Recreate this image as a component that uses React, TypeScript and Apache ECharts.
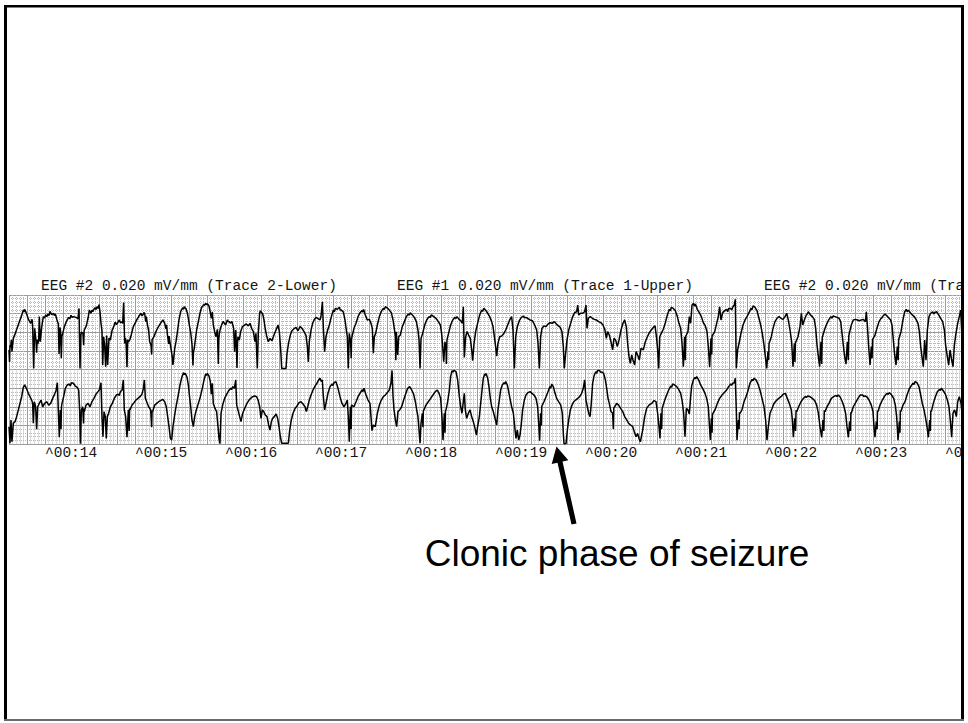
import React, { useEffect, useRef } from "react";
import * as echarts from "echarts";

// Strip timing: one major box = 0.2 s, one minor box = 0.04 s
const TIME_MIN = 13.6;
const TIME_MAX = 24.2;
const TIME_STEP = 0.2;
// Each channel band spans ±200 µV, one major box = 100 µV (0.020 mV/mm, 5 mm boxes)
const AMP_MIN = -200;
const AMP_MAX = 200;
const AMP_STEP = 100;

// The third header runs into the frame and is cut there
const HEADER_TEXT = [
  "EEG #2 0.020 mV/mm (Trace 2-Lower)",
  "EEG #1 0.020 mV/mm (Trace 1-Upper)",
  "EEG #2 0.020 mV/mm (Tra",
];
const ANNOTATION = "Clonic phase of seizure";

// EEG #1 (upper trace): [time s, µV]
const UPPER_A: [number, number][] = [
  [13.600,-95],[13.606,-160],[13.611,-70],[13.619,-80],[13.626,-40],[13.633,-104],[13.648,-33],[13.670,-6],[13.693,26],[13.715,57],[13.737,84],[13.759,119],[13.766,108],[13.774,123],[13.785,112],[13.796,98],[13.819,66],[13.841,48],[13.856,70],[13.863,30],[13.874,-195],[13.885,21],[13.900,-45],[13.907,-110],[13.913,-40],[13.919,-63],[13.930,-45],[13.937,84],[13.948,-51],[13.963,26],[13.981,84],[13.994,76],[14.007,93],[14.020,84],[14.033,98],[14.045,90],[14.056,112],[14.074,94],[14.093,102],[14.104,90],[14.115,98],[14.133,66],[14.148,44],[14.156,-117],[14.167,26],[14.174,0],[14.181,-140],[14.188,-20],[14.196,-9],[14.215,30],[14.237,57],[14.263,80],[14.276,72],[14.289,91],[14.302,80],[14.315,84],[14.344,80],[14.367,73],[14.378,128],[14.389,-195],[14.397,-20],[14.404,1],[14.422,-6],[14.429,-70],[14.435,10],[14.459,34],[14.478,75],[14.493,119],[14.511,102],[14.522,118],[14.533,112],[14.545,125],[14.556,132],[14.567,122],[14.578,137],[14.590,128],[14.600,148],[14.611,110],[14.622,48],[14.633,8],[14.641,-176],[14.652,-24],[14.663,-74],[14.674,-185],[14.685,-17],[14.696,-176],[14.711,-31],[14.726,-42],[14.744,8],[14.763,30],[14.781,55],[14.792,42],[14.804,48],[14.826,66],[14.837,52],[14.848,55],[14.863,48],[14.874,159],[14.885,-60],[14.893,-30],[14.900,-45],[14.911,-188],[14.919,-40],[14.926,-53],[14.941,-42],[14.959,-13],[14.981,30],[15.000,48],[15.022,69],[15.044,87],[15.067,102],[15.078,88],[15.089,94],[15.098,106],[15.107,102],[15.119,57],[15.126,84],[15.137,44],[15.152,8],[15.163,-51],[15.178,-70],[15.185,-120],[15.190,-40],[15.211,-24],[15.230,1],[15.248,19],[15.270,37],[15.293,55],[15.311,66],[15.330,48],[15.344,19],[15.351,40],[15.359,-9],[15.374,-63],[15.380,-20],[15.385,-42],[15.400,-88],[15.415,-135],[15.421,-175],[15.426,-160],[15.441,-88],[15.456,-49],[15.470,-2],[15.489,66],[15.507,110],[15.518,122],[15.530,130],[15.539,124],[15.548,137],[15.558,130],[15.567,127],[15.581,105],[15.593,73],[15.604,37],[15.619,-2],[15.633,-63],[15.644,-178],[15.650,-100],[15.656,-95],[15.670,-42],[15.685,12],[15.704,57],[15.722,102],[15.741,134],[15.752,140],[15.763,148],[15.774,145],[15.785,155],[15.795,148],[15.804,153],[15.822,141],[15.833,116],[15.848,75],[15.859,110],[15.870,39],[15.885,3],[15.900,-24],[15.915,16],[15.926,-170],[15.931,-40],[15.937,-6],[15.952,26],[15.970,48],[15.980,58],[15.989,51],[16.007,39],[16.026,66],[16.035,58],[16.044,57],[16.063,48],[16.072,58],[16.081,51],[16.096,21],[16.107,-104],[16.119,12],[16.126,-60],[16.133,-192],[16.139,-60],[16.144,-24],[16.159,-42],[16.174,3],[16.193,30],[16.215,37],[16.226,42],[16.237,44],[16.259,34],[16.278,48],[16.296,21],[16.315,3],[16.333,-51],[16.344,-6],[16.359,-195],[16.370,-6],[16.385,102],[16.392,115],[16.400,110],[16.419,98],[16.433,66],[16.448,16],[16.463,-20],[16.481,-51],[16.500,-33],[16.522,-45],[16.544,-15],[16.567,12],[16.589,39],[16.604,3],[16.619,-95],[16.630,-195],[16.678,-195],[16.689,-113],[16.707,-56],[16.726,-15],[16.744,8],[16.767,19],[16.789,26],[16.811,8],[16.833,30],[16.856,21],[16.878,3],[16.900,-17],[16.915,-77],[16.926,-160],[16.937,-49],[16.956,12],[16.974,48],[16.993,69],[17.011,80],[17.033,73],[17.056,66],
];
const UPPER_B: [number, number][] = [
  [17.067,87],[17.082,164],[17.093,21],[17.107,-104],[17.122,-24],[17.141,12],[17.159,39],[17.182,84],[17.204,119],[17.215,110],[17.226,128],[17.248,123],[17.270,134],[17.281,120],[17.293,119],[17.315,109],[17.333,66],[17.348,12],[17.359,-24],[17.370,-194],[17.381,-6],[17.396,-51],[17.402,-140],[17.406,-40],[17.411,-24],[17.433,21],[17.456,48],[17.478,84],[17.500,105],[17.522,116],[17.532,108],[17.541,123],[17.559,93],[17.581,66],[17.604,69],[17.622,48],[17.637,21],[17.648,-113],[17.659,-24],[17.674,-6],[17.693,39],[17.715,84],[17.737,112],[17.759,128],[17.770,122],[17.782,137],[17.804,130],[17.826,119],[17.848,105],[17.867,66],[17.881,21],[17.893,-24],[17.898,-150],[17.904,3],[17.919,-122],[17.930,-24],[17.948,-15],[17.970,30],[17.993,57],[18.015,84],[18.037,98],[18.048,92],[18.059,105],[18.082,93],[18.104,80],[18.126,57],[18.144,12],[18.156,-42],[18.167,-194],[18.178,-33],[18.196,-6],[18.219,39],[18.241,66],[18.267,84],[18.280,80],[18.293,93],[18.319,84],[18.344,75],[18.370,57],[18.393,39],[18.407,-6],[18.419,-77],[18.430,-158],[18.444,-51],[18.456,-95],[18.460,-170],[18.465,-50],[18.470,-33],[18.489,3],[18.507,39],[18.530,66],[18.556,80],[18.567,74],[18.578,84],[18.600,69],[18.619,62],[18.637,48],[18.648,137],[18.659,-135],[18.674,-24],[18.689,3],[18.707,-15],[18.726,-33],[18.741,-95],[18.752,-153],[18.767,-60],[18.785,3],[18.807,48],[18.830,93],[18.852,119],[18.863,112],[18.874,128],[18.896,119],[18.919,102],[18.941,84],[18.963,57],[18.978,30],[18.993,-24],[19.007,-77],[19.019,-128],[19.033,-60],[19.052,-24],[19.074,-20],[19.096,-9],[19.119,12],[19.141,39],[19.163,66],[19.185,84],[19.200,12],[19.215,-194],[19.230,-24],[19.248,30],[19.270,62],[19.293,80],[19.315,87],[19.328,78],[19.341,80],[19.363,75],[19.389,66],[19.415,62],[19.441,39],[19.463,12],[19.478,-60],[19.493,-194],[19.507,-24],[19.522,21],[19.544,34],[19.567,30],[19.589,44],[19.611,51],[19.637,48],[19.659,57],[19.682,44],[19.704,34],[19.726,26],[19.744,3],[19.759,-77],[19.770,-194],[19.785,-113],[19.800,-42],[19.819,12],[19.841,48],[19.863,84],[19.885,105],[19.907,110],[19.919,146],[19.930,93],[19.952,102],[19.974,102],[19.996,110],[20.011,146],[20.022,21],[20.037,75],[20.059,84],[20.082,75],[20.104,69],[20.126,66],[20.152,57],[20.178,51],[20.200,39],[20.222,12],[20.237,-33],[20.252,3],[20.270,-15],[20.289,-51],[20.307,-95],[20.322,-33],[20.341,-42],[20.359,-77],[20.378,-42],[20.400,12],[20.422,48],[20.441,66],[20.459,30],[20.474,-60],[20.489,-131],[20.504,-167],[20.519,-122],[20.533,-149],[20.552,-176],[20.567,-104],[20.585,-122],[20.604,-149],[20.622,-86],
];
const UPPER_C: [number, number][] = [
  [20.648,-95],[20.670,-51],[20.693,-24],[20.715,-2],[20.737,12],[20.759,26],[20.778,34],[20.796,-33],[20.807,-95],[20.819,-194],[20.830,-24],[20.848,-6],[20.870,16],[20.893,51],[20.915,93],[20.937,123],[20.948,115],[20.959,134],[20.981,128],[21.004,116],[21.026,84],[21.044,48],[21.063,21],[21.078,-60],[21.093,-185],[21.107,-24],[21.115,-150],[21.120,-20],[21.126,-15],[21.144,3],[21.159,84],[21.174,48],[21.189,146],[21.207,155],[21.215,140],[21.226,152],[21.248,123],[21.270,105],[21.293,84],[21.315,51],[21.337,34],[21.356,3],[21.370,-77],[21.385,-188],[21.400,-33],[21.408,-120],[21.412,-20],[21.419,-15],[21.441,3],[21.463,48],[21.481,84],[21.496,137],[21.511,66],[21.530,105],[21.552,116],[21.574,123],[21.585,110],[21.596,128],[21.619,127],[21.630,120],[21.641,134],[21.659,146],[21.670,177],[21.681,-194],[21.696,-95],[21.715,-51],[21.733,-6],[21.756,39],[21.778,66],[21.800,84],[21.822,105],[21.844,128],[21.855,120],[21.867,141],[21.889,134],[21.911,116],[21.933,75],[21.952,39],[21.970,-6],[21.989,-69],[22.004,-131],[22.019,-194],[22.033,-104],[22.040,-150],[22.045,-60],[22.052,-51],[22.070,-24],[22.089,21],[22.111,57],[22.133,75],[22.156,84],[22.178,75],[22.200,69],[22.222,84],[22.241,102],[22.259,66],[22.278,12],[22.296,-51],[22.311,-185],[22.326,-60],[22.333,-160],[22.338,-55],[22.344,-51],[22.367,-24],[22.389,30],[22.404,102],[22.419,39],[22.437,66],[22.459,93],[22.470,98],[22.481,110],[22.504,93],[22.526,84],[22.548,69],[22.563,21],[22.578,-69],[22.593,-131],[22.607,-185],[22.622,-51],[22.630,-170],[22.636,-30],[22.644,-15],[22.667,21],[22.689,48],[22.711,69],[22.733,84],[22.745,75],[22.756,87],[22.778,84],[22.800,80],[22.822,75],[22.841,57],[22.856,-6],[22.870,-69],[22.885,-131],[22.900,-171],[22.915,-51],[22.926,-150],[22.931,-20],[22.937,-6],[22.959,39],[22.981,66],[23.004,69],[23.026,66],[23.048,62],[23.070,66],[23.093,69],[23.115,57],[23.126,110],[23.137,39],[23.152,-77],[23.167,-176],[23.181,-77],[23.190,-140],[23.195,-40],[23.200,-42],[23.222,-15],[23.244,21],[23.267,57],[23.289,75],[23.300,78],[23.311,87],[23.333,98],[23.356,87],[23.378,75],[23.396,66],[23.411,39],[23.426,-42],[23.441,-122],[23.456,-176],[23.470,-77],[23.480,-150],[23.485,-40],[23.489,-42],[23.511,3],[23.533,66],[23.552,110],[23.570,123],[23.580,110],[23.593,119],[23.615,105],[23.637,93],[23.659,84],[23.681,66],[23.700,48],[23.715,3],[23.730,-77],[23.744,-131],[23.759,-185],[23.774,-42],[23.789,-150],[23.804,12],[23.822,84],[23.841,102],[23.863,110],[23.874,98],[23.885,105],[23.907,110],[23.930,93],[23.952,75],[23.974,57],[23.993,12],[24.007,-69],[24.026,-131],[24.041,-176],[24.056,-95],[24.074,-149],[24.089,-185],[24.104,-69],[24.122,-6],[24.141,48],[24.159,84],[24.174,119],[24.185,12],[24.200,-185],[24.215,-95],
];

// EEG #2 (lower trace): [time s, µV]
const LOWER_A: [number, number][] = [
  [13.600,-107],[13.611,-196],[13.622,-71],[13.633,-188],[13.648,-89],[13.667,-80],[13.685,-53],[13.704,-17],[13.722,18],[13.741,54],[13.759,104],[13.774,117],[13.793,99],[13.815,72],[13.833,54],[13.852,36],[13.863,18],[13.870,-89],[13.881,27],[13.896,0],[13.907,-121],[13.919,0],[13.937,18],[13.956,36],[13.974,0],[13.996,18],[14.019,27],[14.041,9],[14.063,18],[14.085,45],[14.107,68],[14.122,86],[14.137,129],[14.148,-17],[14.159,-164],[14.170,-17],[14.178,-120],[14.183,0],[14.189,18],[14.207,54],[14.226,99],[14.248,117],[14.270,122],[14.281,112],[14.293,129],[14.315,126],[14.337,111],[14.359,104],[14.374,90],[14.385,-17],[14.393,-198],[14.404,-17],[14.419,0],[14.428,-90],[14.432,-10],[14.437,-26],[14.456,9],[14.478,18],[14.500,0],[14.522,27],[14.544,45],[14.567,68],[14.589,81],[14.607,93],[14.622,129],[14.633,-53],[14.644,-161],[14.656,-26],[14.670,-53],[14.681,-170],[14.693,-53],[14.707,-35],[14.726,0],[14.748,18],[14.770,45],[14.793,63],[14.815,68],[14.826,60],[14.837,81],[14.856,90],[14.870,144],[14.881,-17],[14.896,-53],[14.911,-164],[14.926,-17],[14.935,-130],[14.940,-10],[14.944,-17],[14.967,9],[14.989,22],[15.011,36],[15.033,45],[15.056,54],[15.078,68],[15.093,99],[15.104,144],[15.115,45],[15.130,27],[15.152,0],[15.174,-17],[15.185,-110],[15.190,-20],[15.196,-26],[15.219,9],[15.241,18],[15.263,27],[15.285,33],[15.307,40],[15.330,27],[15.348,0],[15.363,-53],[15.378,-107],[15.393,-170],[15.407,-179],[15.422,-107],[15.441,-44],[15.459,9],[15.481,63],[15.500,117],[15.522,162],[15.541,183],[15.550,172],[15.559,179],[15.578,158],[15.593,117],[15.604,63],[15.619,0],[15.633,-71],[15.648,-107],[15.663,-53],[15.681,-17],[15.704,18],[15.726,54],[15.748,99],[15.767,144],[15.785,176],[15.795,168],[15.804,179],[15.822,165],[15.837,135],[15.848,68],[15.859,126],[15.870,18],[15.889,-9],[15.907,-26],[15.922,-107],[15.933,-170],[15.944,-198],[15.956,-35],[15.974,9],[15.996,45],[16.019,68],[16.041,86],[16.063,99],[16.074,92],[16.085,108],[16.104,99],[16.119,144],[16.130,9],[16.144,-17],[16.163,-53],[16.178,-80],[16.196,-35],[16.219,-9],[16.241,15],[16.263,33],[16.285,45],[16.307,54],[16.330,58],[16.352,54],[16.370,33],[16.385,0],[16.400,-62],[16.415,-17],[16.430,-26],[16.448,-44],[16.467,-53],[16.485,-98],[16.500,-125],[16.515,-80],[16.530,-62],[16.548,-53],[16.567,-39],[16.585,-62],[16.600,-107],[16.615,-161],[16.630,-196],[16.704,-196],[16.719,-125],[16.737,-71],[16.756,-35],[16.778,-9],[16.800,4],[16.822,22],[16.844,27],[16.867,15],[16.889,0],[16.904,-26],[16.919,0],[16.937,36],[16.956,63],[16.978,90],[17.000,111],[17.022,126],[17.041,144],[17.056,153],
];
const LOWER_B: [number, number][] = [
  [17.070,135],[17.081,144],[17.093,54],[17.107,-17],[17.122,18],[17.144,72],[17.167,108],[17.189,122],[17.200,114],[17.211,129],[17.233,135],[17.256,99],[17.278,54],[17.300,18],[17.322,0],[17.344,18],[17.359,36],[17.370,-53],[17.381,-188],[17.393,0],[17.402,-120],[17.406,10],[17.411,9],[17.433,0],[17.456,27],[17.478,54],[17.500,72],[17.522,90],[17.533,82],[17.544,99],[17.567,63],[17.589,36],[17.611,18],[17.622,-53],[17.633,-128],[17.648,-98],[17.670,-107],[17.693,-35],[17.715,9],[17.737,36],[17.759,54],[17.782,63],[17.804,76],[17.826,90],[17.844,126],[17.856,195],[17.867,54],[17.878,-17],[17.893,-71],[17.907,-107],[17.922,-26],[17.941,-17],[17.963,0],[17.985,36],[18.007,68],[18.030,99],[18.052,108],[18.063,100],[18.074,90],[18.096,68],[18.115,27],[18.130,-17],[18.144,-53],[18.156,-125],[18.167,-196],[18.178,-89],[18.193,-35],[18.200,-110],[18.204,-20],[18.211,-17],[18.233,9],[18.259,27],[18.285,45],[18.311,63],[18.337,81],[18.359,90],[18.378,72],[18.396,45],[18.411,-53],[18.422,-179],[18.437,-35],[18.445,-140],[18.450,-20],[18.456,-17],[18.474,27],[18.493,90],[18.507,162],[18.522,194],[18.533,186],[18.544,195],[18.567,188],[18.585,144],[18.604,54],[18.619,0],[18.633,-35],[18.648,27],[18.659,72],[18.670,-17],[18.685,-62],[18.704,-35],[18.722,-17],[18.741,-53],[18.759,-80],[18.778,-116],[18.793,-152],[18.807,-107],[18.826,-53],[18.841,18],[18.856,90],[18.870,153],[18.885,176],[18.892,168],[18.900,179],[18.919,153],[18.933,108],[18.948,45],[18.963,0],[18.981,-26],[19.000,-62],[19.019,-98],[19.033,-17],[19.048,36],[19.063,90],[19.081,117],[19.100,129],[19.110,122],[19.119,135],[19.137,117],[19.152,81],[19.170,36],[19.185,0],[19.204,-35],[19.219,-107],[19.233,-170],[19.248,-125],[19.263,-179],[19.278,-152],[19.293,-89],[19.307,-17],[19.326,36],[19.344,63],[19.367,76],[19.389,81],[19.411,72],[19.433,63],[19.456,45],[19.474,0],[19.485,-89],[19.496,-182],[19.507,-35],[19.515,-100],[19.519,0],[19.526,9],[19.544,27],[19.567,54],[19.589,81],[19.611,108],[19.620,100],[19.630,122],[19.648,108],[19.667,72],[19.685,45],[19.707,27],[19.730,9],[19.748,-35],[19.759,-143],[19.767,-198],[19.789,-198],[19.804,-125],[19.819,-71],[19.837,-17],[19.856,9],[19.874,27],[19.896,36],[19.919,45],[19.941,54],[19.963,72],[19.981,99],[19.996,144],[20.011,36],[20.026,0],[20.041,-35],[20.056,-53],[20.070,18],[20.085,126],[20.100,165],[20.119,188],[20.130,180],[20.141,195],[20.163,194],[20.174,184],[20.185,188],[20.207,179],[20.226,144],[20.241,99],[20.256,45],[20.270,18],[20.289,-26],[20.307,-35],[20.315,-120],[20.320,-5],[20.330,0],[20.352,18],[20.374,9],[20.396,-9],[20.419,-26],[20.441,-53],[20.463,-71],[20.485,-89],[20.507,-98],[20.530,-107],[20.548,-134],[20.567,-161],[20.585,-143],[20.600,-170],[20.615,-188],
];
const LOWER_C: [number, number][] = [
  [20.641,-125],[20.663,-53],[20.685,-9],[20.711,9],[20.741,18],[20.767,33],[20.789,27],[20.807,-35],[20.822,-107],[20.833,-170],[20.844,-35],[20.852,-120],[20.857,-10],[20.863,0],[20.885,33],[20.907,63],[20.930,90],[20.952,111],[20.963,104],[20.974,122],[20.996,117],[21.019,108],[21.041,93],[21.063,72],[21.081,27],[21.096,-35],[21.111,-161],[21.126,-9],[21.144,-17],[21.159,-39],[21.174,54],[21.185,111],[21.204,144],[21.222,158],[21.230,150],[21.241,162],[21.263,144],[21.285,117],[21.307,99],[21.330,76],[21.352,45],[21.370,0],[21.381,-89],[21.393,-179],[21.404,-62],[21.412,-140],[21.416,-40],[21.422,-35],[21.444,-17],[21.470,18],[21.496,45],[21.522,63],[21.548,76],[21.574,90],[21.596,108],[21.619,122],[21.630,116],[21.641,126],[21.659,129],[21.670,153],[21.681,-17],[21.689,-179],[21.704,-71],[21.712,-120],[21.716,-30],[21.722,-35],[21.744,-17],[21.767,27],[21.789,54],[21.811,86],[21.833,126],[21.856,147],[21.867,140],[21.878,153],[21.900,144],[21.922,122],[21.944,90],[21.967,45],[21.989,0],[22.007,-71],[22.022,-179],[22.037,-107],[22.056,-35],[22.078,-9],[22.100,18],[22.126,33],[22.152,45],[22.178,54],[22.204,68],[22.226,72],[22.248,45],[22.270,18],[22.293,-17],[22.304,-71],[22.315,-164],[22.330,-62],[22.340,-130],[22.345,-20],[22.352,-26],[22.374,0],[22.400,27],[22.426,45],[22.448,54],[22.460,50],[22.474,58],[22.500,54],[22.526,45],[22.552,33],[22.574,9],[22.593,-35],[22.611,-107],[22.630,-164],[22.644,-71],[22.654,-130],[22.659,-20],[22.667,-26],[22.689,0],[22.711,18],[22.737,45],[22.763,54],[22.789,61],[22.800,55],[22.815,63],[22.837,51],[22.859,27],[22.878,0],[22.896,-35],[22.911,-107],[22.926,-164],[22.941,-80],[22.950,-130],[22.954,-30],[22.959,-35],[22.981,0],[23.007,22],[23.033,45],[23.059,63],[23.085,63],[23.098,55],[23.111,58],[23.137,51],[23.159,33],[23.181,9],[23.200,-26],[23.211,-107],[23.222,-164],[23.237,-80],[23.246,-120],[23.250,-20],[23.256,-26],[23.278,9],[23.304,36],[23.330,58],[23.356,72],[23.368,66],[23.381,76],[23.407,63],[23.430,45],[23.448,9],[23.463,-53],[23.478,-179],[23.493,-80],[23.500,-140],[23.504,-20],[23.511,-26],[23.533,9],[23.556,27],[23.578,63],[23.600,93],[23.622,111],[23.644,126],[23.655,120],[23.667,135],[23.689,129],[23.711,108],[23.730,63],[23.748,18],[23.767,-17],[23.785,-62],[23.800,-107],[23.815,-164],[23.830,-71],[23.838,-130],[23.842,-20],[23.848,-26],[23.870,18],[23.893,54],[23.915,81],[23.937,93],[23.948,88],[23.959,99],[23.981,86],[24.004,68],[24.026,36],[24.044,0],[24.059,-71],[24.074,-164],[24.089,-35],[24.107,-17],[24.126,-53],[24.141,27],[24.159,54],[24.178,18],[24.193,-53],[24.207,-161],[24.222,-71],
];

const UPPER_TRACE = [...UPPER_A, ...UPPER_B, ...UPPER_C];
const LOWER_TRACE = [...LOWER_A, ...LOWER_B, ...LOWER_C];

const MONO = '"Liberation Mono", "DejaVu Sans Mono", monospace';
const MAJOR_GRID = "#9c9c9c";
const MINOR_GRID = "#bababa";
const INK = "#151515";

// Time marks on whole seconds; the last one runs into the frame and only its start shows
function timeLabel(v: number): string {
  const s = Math.round(v);
  if (Math.abs(v - s) > 1e-6) return "";
  if (TIME_MAX - s < 0.5) return "^0";
  return "^00:" + String(s).padStart(2, "0");
}

function stripAxes(gridIndex: number, withLabels: boolean) {
  const x = {
    type: "value",
    gridIndex,
    min: TIME_MIN,
    max: TIME_MAX,
    interval: TIME_STEP,
    axisLine: { show: false },
    axisTick: { show: false },
    axisLabel: withLabels
      ? {
          show: true,
          formatter: timeLabel,
          align: "left",
          margin: 1,
          fontFamily: MONO,
          fontSize: 14.5,
          color: INK,
          showMinLabel: true,
          showMaxLabel: true,
        }
      : { show: false },
    splitLine: { show: true, lineStyle: { color: MAJOR_GRID, width: 1 } },
    minorTick: { show: false, splitNumber: 5 },
    minorSplitLine: { show: true, lineStyle: { color: MINOR_GRID, width: 1, type: "dotted" } },
  };
  const y = {
    type: "value",
    gridIndex,
    min: AMP_MIN,
    max: AMP_MAX,
    interval: AMP_STEP,
    axisLine: { show: false },
    axisTick: { show: false },
    axisLabel: { show: false },
    splitLine: { show: true, lineStyle: { color: MAJOR_GRID, width: 1 } },
    minorTick: { show: false, splitNumber: 5 },
    minorSplitLine: { show: true, lineStyle: { color: MINOR_GRID, width: 1, type: "dotted" } },
  };
  return { x, y };
}

// Pointer arrow under the strip
const ARROW_POINTS = [
  [556.5, 446.5], [568.3, 460.2], [562.5, 461.5], [576.5, 523.4],
  [571.5, 524.6], [557.5, 462.7], [551.7, 464.0],
];

export default function App() {
  const ref = useRef<HTMLDivElement>(null);

  useEffect(() => {
    if (!ref.current) return;
    const chart = echarts.init(ref.current, null, { renderer: "svg" });
    const top = stripAxes(0, false);
    const bottom = stripAxes(1, true);
    const headerX = [41, 397, 764];

    chart.setOption({
      animation: false,
      backgroundColor: "#ffffff",
      grid: [
        { left: 9, top: 295, width: 954, height: 74.5, containLabel: false, outerBoundsMode: "none" },
        { left: 9, top: 369.5, width: 954, height: 74.5, containLabel: false, outerBoundsMode: "none" },
      ],
      xAxis: [top.x, bottom.x],
      yAxis: [top.y, bottom.y],
      series: [
        {
          name: "EEG #1",
          type: "line",
          xAxisIndex: 0,
          yAxisIndex: 0,
          data: UPPER_TRACE,
          showSymbol: false,
          symbol: "none",
          clip: true,
          silent: true,
          lineStyle: { color: "#000", width: 1.5 },
        },
        {
          name: "EEG #2",
          type: "line",
          xAxisIndex: 1,
          yAxisIndex: 1,
          data: LOWER_TRACE,
          showSymbol: false,
          symbol: "none",
          clip: true,
          silent: true,
          lineStyle: { color: "#000", width: 1.5 },
        },
      ],
      graphic: [
        ...HEADER_TEXT.map((t, i) => ({
          type: "text",
          x: headerX[i],
          y: 285.5,
          z: 50,
          style: {
            text: t,
            font: `14.5px ${MONO}`,
            fill: INK,
            textAlign: "left",
            textVerticalAlign: "middle",
          },
        })),
        {
          type: "text",
          x: 617,
          y: 553,
          z: 50,
          style: {
            text: ANNOTATION,
            font: '37px "Liberation Sans", Arial, sans-serif',
            fill: "#000",
            textAlign: "center",
            textVerticalAlign: "middle",
          },
        },
        {
          type: "polygon",
          z: 50,
          shape: { points: ARROW_POINTS },
          style: { fill: "#000" },
        },
        // page frame, with the strip cut off at its right edge
        { type: "rect", z: 100, shape: { x: 963, y: 0, width: 6, height: 723 }, style: { fill: "#fff" } },
        { type: "rect", z: 101, shape: { x: 4, y: 5, width: 3, height: 716 }, style: { fill: "#000" } },
        { type: "rect", z: 101, shape: { x: 4, y: 5, width: 960, height: 2.5 }, style: { fill: "#000" } },
        { type: "rect", z: 101, shape: { x: 961, y: 5, width: 3, height: 716 }, style: { fill: "#000" } },
        { type: "rect", z: 101, shape: { x: 4, y: 719, width: 960, height: 2 }, style: { fill: "#6a6a6a" } },
      ],
    });

    return () => chart.dispose();
  }, []);

  return (
    <div
      ref={ref}
      style={{ position: "absolute", left: 0, top: 0, width: 968, height: 723, background: "#fff" }}
    />
  );
}
